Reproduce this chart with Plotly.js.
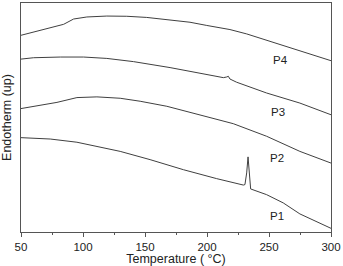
<!DOCTYPE html>
<html>
<head>
<meta charset="utf-8">
<script src="https://cdn.plot.ly/plotly-3.0.1.min.js"></script>
<style>html,body{margin:0;padding:0;background:#fff;}#chart{width:343px;height:266px;}</style>
</head>
<body>
<div id="chart"></div>
<script>
// DSC heating traces, stacked with vertical offsets (arbitrary units)
const p4T = [50, 84.4, 92.4, 103.1, 119.2, 135.3, 151.4, 170.2, 186.3, 199.8, 218.5, 232, 248, 274.9, 300];
const p4Y = [85.9, 90.7, 93.0, 93.9, 94.3, 94.2, 93.7, 92.7, 91.6, 90.2, 88.4, 86.5, 83.8, 79.3, 74.8];

const p3T = [50, 60.2, 81.7, 100.5, 119.2, 140.7, 170.2, 194.4, 213.2, 215.9, 217.2, 218.5, 223.9, 248.1, 274.9, 300];
const p3Y = [75.5, 76.1, 76.4, 76.4, 75.8, 74.4, 71.8, 69.3, 67.4, 67.7, 68.0, 66.8, 65.4, 60.7, 56.3, 51.2];

const p2T = [50, 79, 95.1, 111.2, 130, 146.1, 167.6, 194.4, 221.2, 248.1, 274.9, 300];
const p2Y = [53.9, 56.6, 58.7, 59.0, 58.4, 57.1, 54.9, 51.2, 47.3, 41.8, 35.2, 30.1];

const p1T = [50, 73.6, 95.1, 108.5, 130, 154.1, 181, 207.8, 221.2, 229.3, 230.6, 232, 233.1, 234.1, 235.2, 248.1, 261.5, 274.9, 288.3, 300];
const p1Y = [41.2, 40.6, 39.2, 37.7, 35.2, 31.6, 27.2, 23.3, 21.4, 20.5, 20.7, 25.8, 32.8, 25.8, 18.8, 16.3, 12.7, 7.9, 4.7, 1.6];

const curveNames = ['P4', 'P3', 'P2', 'P1'];
const labelT = [259.6, 257.4, 256.1, 256.1];
const labelY = [75.2, 52.2, 32.3, 7.1];

const series = [[p4T, p4Y], [p3T, p3Y], [p2T, p2Y], [p1T, p1Y]];

const lineColor = '#404040';
const traces = series.map((s, i) => ({
  x: s[0], y: s[1], type: 'scatter', mode: 'lines', name: curveNames[i],
  line: {color: lineColor, width: 1}, hoverinfo: 'skip'
}));

const annotations = curveNames.map((n, i) => ({
  x: labelT[i], y: labelY[i], xref: 'x', yref: 'y', text: n, showarrow: false,
  font: {family: 'Liberation Sans, Arial, sans-serif', size: 11.5, color: '#222'}
}));

const axisColor = '#555';
const layout = {
  width: 343, height: 266,
  margin: {l: 21, r: 12, t: 3, b: 34, pad: 0},
  paper_bgcolor: '#fff', plot_bgcolor: '#fff',
  showlegend: false,
  font: {family: 'Liberation Sans, Arial, sans-serif', size: 11, color: '#222'},
  xaxis: {
    range: [50, 300], tick0: 50, dtick: 50, ticks: 'outside', ticklen: 4, tickwidth: 1,
    tickcolor: axisColor, showline: true, linecolor: axisColor, linewidth: 1, mirror: true,
    showgrid: false, zeroline: false, automargin: false,
    minor: {dtick: 25, ticks: 'outside', ticklen: 2, tickcolor: axisColor, showgrid: false},
    tickfont: {size: 11.5, color: '#222'},
    title: {text: 'Temperature ( °C)', font: {size: 12.5, color: '#222'}, standoff: 10}
  },
  yaxis: {
    range: [0, 100], showticklabels: false, ticks: '', showline: true, linecolor: axisColor,
    linewidth: 1, mirror: true, showgrid: false, zeroline: false, automargin: false,
    title: {text: 'Endotherm (up)', font: {size: 12.5, color: '#222'}, standoff: 7}
  },
  annotations: annotations
};

Plotly.newPlot('chart', traces, layout, {displayModeBar: false, staticPlot: true});
</script>
</body>
</html>
